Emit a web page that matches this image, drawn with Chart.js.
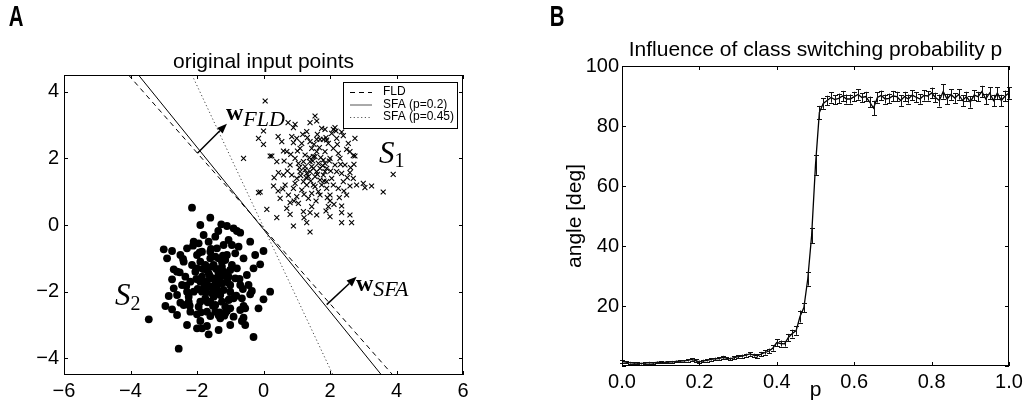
<!DOCTYPE html>
<html>
<head>
<meta charset="utf-8">
<script src="https://cdn.jsdelivr.net/npm/chart.js@4.4.1/dist/chart.umd.min.js"></script>
<style>
  body { margin: 0; background: #fff; width: 1028px; height: 407px; overflow: hidden; position: relative; }
  canvas { position: absolute; top: 0; }
  #chartA { left: 0; }
  #chartB { left: 520px; }
</style>
</head>
<body>
<canvas id="chartA" width="480" height="407"></canvas>
<canvas id="chartB" width="508" height="407"></canvas>
<script>
// ---- panel A data ----
const xTicksA = [-6, -4, -2, 0, 2, 4, 6];
const yTicksA = [-4, -2, 0, 2, 4];

// class S1 (crosses)
const s1Points = [
  [-0.6,2.0],[0.05,3.72],[3.9,1.52],[1.4,-0.21],[2.35,0.07],[2.65,0.07],[3.6,0.99],[2.8,1.2],[3.0,1.25],[2.75,2.6],
  [2.7,2.08],[-0.15,2.6],[0,2.82],[0.44,2.65],[0.9,2.92],[1.55,3.27],[1.6,3.12],[1.85,2.87],[2.15,2.92],[2.4,2.68],
  [-0.1,0.99],[0.3,1.17],[0.44,1.02],[0.1,0.47],[0.4,0.22],[0.8,0.32],[0.9,-0.03],[1.3,0.07],[1.4,0.37],[2.0,0.72],
  [2.35,0.57],[2.35,0.37],[2.6,1.17],[2.6,1.57],[2.5,2.27],[0.9,2.47],[0.2,2.07],[0.45,1.57],[0.8,0.67],[0.74,3.07],
  [0.95,3.02],[1.4,3.07],[2.1,2.87],[2.35,2.79],[0,2.42],[0.25,2.07],[0.6,2.22],[2.75,2.07],[3.05,1.12],[3.25,1.17],
  [-0.15,0.97],[2.6,0.3],
  [1.5,1.7],[1.2,1.9],[1.8,1.5],[1.0,1.4],[2.0,2.0],[1.6,2.2],[1.3,1.2],[1.9,1.1],[0.8,1.8],[2.2,1.6],
  [1.4,2.5],[1.1,2.3],[1.7,0.9],[2.4,1.3],[0.9,1.1],[1.55,1.45],[1.25,1.65],[1.85,1.85],[2.1,2.3],[0.7,2.2],
  [1.6,2.57],[1.7,2.57],[1.8,2.57],[1.9,2.55],[1.65,1.0],[1.35,0.8],[2.0,0.9],[2.25,1.1],[0.6,1.5],[0.75,0.9],
  [1.05,0.65],[1.45,0.55],[1.95,0.55],[2.3,2.0],[2.45,1.8],[1.0,2.6],[1.3,2.8],[0.55,2.5],[2.2,2.6],[1.75,2.9],
  [1.5,1.2],[1.15,1.05],[1.4,1.9],[1.9,1.7],[1.7,1.35],[1.05,1.85],[2.05,1.4],[1.25,2.1],[1.6,1.6],[1.35,1.45],
  [0.95,2.0],[1.85,2.2],[1.55,2.05],[2.15,1.8],[0.85,1.5],[1.45,2.3],[1.95,2.45],[1.1,1.6],[2.35,1.55],[1.65,1.85],
  [0.65,1.2],[0.5,0.8],[1.2,0.4],[1.6,0.3],[2.0,0.25],[2.5,0.9],[2.7,1.4],[2.55,2.45],[2.05,2.75],[0.4,1.9],
  [1.3,1.55],[1.75,1.2],[1.15,2.45],[2.25,2.15],[0.7,0.5],[1.9,1.3],[1.45,0.95],[0.85,2.65],[2.6,2.2],[1.0,0.85],
  [1.55,1.15],[1.25,1.75],[1.8,1.95],[1.4,1.6],[1.7,1.7],[1.2,1.3],[2.1,1.2],[0.95,1.25],[1.5,2.05],[1.85,1.6],
  [1.45,1.75],[1.62,1.52],[1.38,2.02],[1.78,1.78],[1.12,1.48],[2.02,1.62],[1.52,2.42],[1.92,0.82],[1.22,0.92],[0.82,2.12],
  [2.32,1.82],[1.68,2.32],[1.32,2.62],[2.12,0.62],[0.72,1.62],[1.58,0.72],[2.52,1.42],[1.02,2.22],[1.88,2.62],[2.22,2.42],
  [1.42,1.32],[1.72,2.02],[1.08,1.72],[1.98,1.92],[1.28,1.42],[2.42,1.02],[0.62,1.92],[1.82,1.32],[1.48,1.92],[1.18,2.72],
  [2.62,1.72],[0.92,0.72],[1.62,2.72],[2.28,0.82],[0.58,1.08],[1.88,0.42],[1.22,0.22],[2.72,1.82],[0.32,1.42],[2.18,2.82]
];

// class S2 (dots)
const s2Points = [
  [-3.45,-2.83],[-2.55,-3.71],[-2.15,0.52],[-1.6,0.22],[-3.0,-0.73],[-2.85,-2.13],[-2.95,-2.43],[-0.3,-3.36],[0.2,-2.0],[0,-0.78],
  [-0.1,-1.18],[-0.7,-0.23],[-1.27,0.02],[-1.1,-0.03],[-0.9,-0.1],[-1.65,-3.28],[-1.35,-3.15],[-2.0,-3.1],[-1.85,-3.1],[-0.65,-2.88],
  [-0.4,-2.08],[-0.6,-2.43],[-1.36,-0.18],[-0.8,-0.18],[-2.75,-0.78],[-2.9,-1.0],[-2.7,-1.33],[-2.75,-1.63],[-2.75,-2.53],[-2.5,-2.33],
  [-2.0,-2.68],[-1.9,-2.88],[-1.7,-3.03],[0,-2.23],[-0.35,-1.98],[-0.6,-2.78],[-1.6,-2.73],[-1.35,-2.71],[-1.1,-2.58],
  [-1.5,-1.6],[-1.2,-1.4],[-1.8,-1.9],[-1.0,-1.8],[-2.0,-1.3],[-1.6,-1.0],[-1.3,-2.1],[-1.9,-2.3],[-0.8,-1.3],[-2.2,-1.7],
  [-1.4,-0.7],[-1.1,-0.9],[-1.7,-2.6],[-2.4,-1.1],[-0.9,-2.2],[-1.55,-1.25],[-1.25,-1.75],[-1.85,-1.55],[-2.1,-2.0],[-0.7,-1.8],
  [-1.45,-2.4],[-1.0,-2.5],[-2.3,-0.7],[-0.6,-1.0],[-1.65,-0.5],[-1.35,-1.0],[-2.0,-0.9],[-2.25,-2.3],[-0.5,-1.5],[-0.75,-0.65],
  [-1.05,-0.45],[-1.45,-0.35],[-1.95,-0.55],[-2.3,-2.0],[-2.45,-1.8],[-1.0,-2.0],[-1.3,-2.8],[-0.55,-2.5],[-2.2,-2.6],[-1.75,-2.2],
  [-1.5,-1.2],[-1.15,-1.05],[-1.4,-1.9],[-1.9,-1.7],[-1.7,-1.35],[-1.05,-1.55],[-2.05,-1.4],[-1.25,-2.3],[-1.6,-1.6],[-1.35,-1.45],
  [-0.95,-1.2],[-1.85,-2.0],[-1.55,-2.05],[-2.15,-1.2],[-0.85,-1.6],[-1.45,-2.6],[-1.95,-2.45],[-1.1,-1.6],[-2.35,-1.55],[-1.65,-1.85],
  [-0.65,-2.2],[-0.45,-1.8],[-1.2,-0.6],[-1.6,-0.8],[-2.6,-1.4],[-2.5,-0.9],[-1.8,-0.3],[-1.15,-2.65],[-0.9,-2.75],[-2.6,-2.1],
  [-1.3,-1.55],[-1.75,-1.2],[-1.15,-2.45],[-2.25,-2.15],[-0.7,-2.55],[-1.9,-1.1],[-1.45,-0.95],[-0.85,-0.85],[-2.4,-2.4],[-1.0,-1.35],
  [-1.55,-1.85],[-1.25,-1.25],[-1.8,-1.95],[-1.4,-1.65],[-1.7,-1.7],[-1.2,-1.95],[-2.1,-0.5],[-0.95,-0.6],[-1.5,-2.15],[-1.85,-0.8],
  [-1.35,-2.0],[-1.6,-2.3],[-1.05,-2.25],[-1.65,-1.45],[-1.25,-1.1],
  [-1.45,-1.75],[-1.62,-1.52],[-1.38,-2.02],[-1.78,-1.78],[-1.12,-1.48],[-2.02,-1.62],[-1.52,-2.42],[-1.92,-0.82],[-1.22,-0.92],[-0.82,-2.12],
  [-2.32,-1.82],[-1.68,-2.32],[-1.32,-2.62],[-2.12,-0.62],[-0.72,-1.62],[-1.58,-0.72],[-2.52,-1.42],[-1.02,-2.22],[-1.88,-2.62],[-2.22,-2.42],
  [-1.42,-1.32],[-1.72,-2.02],[-1.08,-1.72],[-1.98,-1.92],[-1.28,-1.42],[-2.42,-1.02],[-0.62,-1.92],[-1.82,-1.32],[-1.48,-1.92],[-1.18,-2.72],
  [-0.3,-1.3],[-0.25,-0.9],[-0.4,-0.5],[-2.7,-1.9],[-2.6,-2.7],[-0.55,-3.0],[-1.0,-3.0],[-2.3,-3.0],[-0.15,-2.5],[-1.9,0.0]
];

// separating lines (end points at the frame edges)
const fldLine = [[-4.06, 4.5], [3.89, -4.5]];
const sfa02Line = [[-3.76, 4.5], [3.55, -4.5]];
const sfa045Line = [[-2.15, 4.5], [2.09, -4.5]];

// weight vectors
const wFldArrow = [[-1.99, 2.15], [-1.10, 3.04]];
const wSfaArrow = [[1.90, -2.39], [2.80, -1.55]];

const legendLabels = ['FLD', 'SFA (p=0.2)', 'SFA (p=0.45)'];

// ---- panel B data ----
const pValues = [
  0.00,0.01,0.02,0.03,0.04,0.05,0.06,0.07,0.08,0.09,
  0.10,0.11,0.12,0.13,0.14,0.15,0.16,0.17,0.18,0.19,
  0.20,0.21,0.22,0.23,0.24,0.25,0.26,0.27,0.28,0.29,
  0.30,0.31,0.32,0.33,0.34,0.35,0.36,0.37,0.38,0.39,
  0.40,0.41,0.42,0.43,0.44,0.45,0.46,0.47,0.48,0.49,
  0.50,0.51,0.52,0.53,0.54,0.55,0.56,0.57,0.58,0.59,
  0.60,0.61,0.62,0.63,0.64,0.65,0.66,0.67,0.68,0.69,
  0.70,0.71,0.72,0.73,0.74,0.75,0.76,0.77,0.78,0.79,
  0.80,0.81,0.82,0.83,0.84,0.85,0.86,0.87,0.88,0.89,
  0.90,0.91,0.92,0.93,0.94,0.95,0.96,0.97,0.98,0.99,
  1.00
];
const angleValues = [
  1.5,1.3,1.1,1.0,1.0,0.8,1.0,1.1,1.0,1.2,
  1.3,1.2,1.3,1.4,1.5,1.6,1.7,1.9,2.2,1.8,
  1.4,1.7,1.9,2.2,2.4,2.5,2.9,2.6,2.4,2.8,
  3.1,3.3,3.6,4.0,3.6,3.4,4.0,4.5,5.0,6.0,
  7.8,7.5,7.4,9.5,10.8,11.8,16.5,19.5,29.0,43.5,
  67.0,84.5,87.5,88.5,89.5,88.8,89.2,90.0,89.0,89.0,
  89.8,90.5,89.5,89.8,88.0,86.0,89.5,90.2,89.0,89.2,
  90.0,89.8,88.5,89.8,89.0,90.3,89.6,89.0,90.2,90.0,
  91.0,89.5,88.5,91.5,89.0,90.5,89.3,90.5,88.5,89.8,
  88.0,90.3,89.8,91.5,89.0,91.0,88.5,91.0,88.5,90.0,
  91.0
];
const angleErrors = [
  0.4,0.3,0.3,0.3,0.3,0.3,0.3,0.3,0.3,0.3,
  0.3,0.3,0.3,0.3,0.3,0.3,0.3,0.4,0.4,0.4,
  0.4,0.4,0.4,0.4,0.4,0.4,0.5,0.4,0.4,0.5,
  0.5,0.5,0.5,0.6,0.5,0.6,0.7,0.7,0.8,0.9,
  1.1,1.0,0.9,1.2,1.3,1.4,2.0,1.6,2.2,2.6,
  3.3,2.2,1.8,1.6,1.7,1.5,1.6,1.7,1.5,1.5,
  1.6,1.7,1.5,1.6,1.8,2.4,1.7,1.6,1.5,1.6,
  1.7,1.6,1.8,1.6,1.5,1.7,1.6,1.6,1.7,1.5,
  1.8,1.6,2.0,2.4,1.7,1.8,1.6,1.7,1.8,1.6,
  1.9,1.7,1.6,1.9,1.8,2.0,1.9,2.0,1.9,1.8,
  1.9
];
const xTicksB = [0, 0.2, 0.4, 0.6, 0.8, 1.0];
const yTicksB = [0, 20, 40, 60, 80, 100];

Chart.defaults.font.family = 'Liberation Sans, Arial, sans-serif';
Chart.defaults.color = '#000';

const toXY = arr => arr.map(p => ({ x: p[0], y: p[1] }));
const minusFmt = v => (v < 0 ? '\u2212' + Math.abs(v) : String(v));

function inwardTicks(ctx, chart, len) {
  const a = chart.chartArea;
  const xs = chart.scales.x, ys = chart.scales.y;
  ctx.beginPath();
  xs.ticks.forEach(t => {
    const px = Math.round(xs.getPixelForValue(t.value)) + 0.5;
    ctx.moveTo(px, a.bottom); ctx.lineTo(px, a.bottom - len);
    ctx.moveTo(px, a.top); ctx.lineTo(px, a.top + len);
  });
  ys.ticks.forEach(t => {
    const py = Math.round(ys.getPixelForValue(t.value)) + 0.5;
    ctx.moveTo(a.left, py); ctx.lineTo(a.left + len, py);
    ctx.moveTo(a.right, py); ctx.lineTo(a.right - len, py);
  });
  ctx.stroke();
  ctx.strokeRect(Math.round(a.left) + 0.5, Math.round(a.top) + 0.5,
    Math.round(a.right - a.left) - 1, Math.round(a.bottom - a.top) - 1);
}

function drawArrow(ctx, chart, seg) {
  const xs = chart.scales.x, ys = chart.scales.y;
  const x0 = xs.getPixelForValue(seg[0][0]), y0 = ys.getPixelForValue(seg[0][1]);
  const x1 = xs.getPixelForValue(seg[1][0]), y1 = ys.getPixelForValue(seg[1][1]);
  const ang = Math.atan2(y1 - y0, x1 - x0);
  const hl = 10, hw = 4;
  ctx.lineWidth = 1.5;
  ctx.beginPath();
  ctx.moveTo(x0, y0);
  ctx.lineTo(x1 - hl * Math.cos(ang), y1 - hl * Math.sin(ang));
  ctx.stroke();
  ctx.beginPath();
  ctx.moveTo(x1, y1);
  ctx.lineTo(x1 - hl * Math.cos(ang) + hw * Math.sin(ang), y1 - hl * Math.sin(ang) - hw * Math.cos(ang));
  ctx.lineTo(x1 - hl * Math.cos(ang) - hw * Math.sin(ang), y1 - hl * Math.sin(ang) + hw * Math.cos(ang));
  ctx.closePath();
  ctx.fill();
}

function mathLabel(ctx, main, mainFont, sub, subFont, x, y, subDy) {
  ctx.textAlign = 'left';
  ctx.textBaseline = 'alphabetic';
  ctx.font = mainFont;
  ctx.fillText(main, x, y);
  const w = ctx.measureText(main).width;
  ctx.font = subFont;
  ctx.fillText(sub, x + w, y + subDy);
}

const panelA = {
  id: 'panelA',
  afterDraw(chart) {
    const ctx = chart.ctx, a = chart.chartArea;
    ctx.save();
    ctx.strokeStyle = '#000';
    ctx.fillStyle = '#000';
    ctx.lineWidth = 1;
    inwardTicks(ctx, chart, 4);

    // title and panel letter
    ctx.textAlign = 'center';
    ctx.textBaseline = 'middle';
    ctx.font = '21px Liberation Sans, Arial, sans-serif';
    ctx.fillText('original input points', (a.left + a.right) / 2, a.top - 13);
    ctx.save();
    ctx.translate(16, 18);
    ctx.scale(0.68, 1);
    ctx.font = 'bold 30px Liberation Sans, Arial, sans-serif';
    ctx.fillText('A', 0, 0);
    ctx.restore();

    // weight vectors
    drawArrow(ctx, chart, wFldArrow);
    drawArrow(ctx, chart, wSfaArrow);

    // math labels
    mathLabel(ctx, 'w', 'bold 24px Liberation Serif, serif', 'FLD', 'italic 22px Liberation Serif, serif', 226, 120, 6);
    mathLabel(ctx, 'w', 'bold 24px Liberation Serif, serif', 'SFA', 'italic 22px Liberation Serif, serif', 356, 291, 5);
    mathLabel(ctx, 'S', 'italic 31px Liberation Serif, serif', '1', '20px Liberation Serif, serif', 379, 163, 4);
    mathLabel(ctx, 'S', 'italic 31px Liberation Serif, serif', '2', '20px Liberation Serif, serif', 115, 305, 5);

    // legend
    const bx = a.right - 120, by = a.top + 7, bw = 114, bh = 46;
    ctx.fillStyle = '#fff';
    ctx.fillRect(bx, by, bw, bh);
    ctx.fillStyle = '#000';
    ctx.lineWidth = 1;
    ctx.strokeRect(bx + 0.5, by + 0.5, bw, bh);
    const styles = [
      { dash: [5, 4], color: '#000' },
      { dash: [], color: '#555' },
      { dash: [1.2, 2.5], color: '#555' }
    ];
    ctx.font = '12px Liberation Sans, Arial, sans-serif';
    ctx.textAlign = 'left';
    ctx.textBaseline = 'middle';
    legendLabels.forEach((lab, i) => {
      const ry = by + 10 + i * 12.5;
      ctx.strokeStyle = styles[i].color;
      ctx.setLineDash(styles[i].dash);
      ctx.beginPath();
      ctx.moveTo(bx + 7, ry + 0.5);
      ctx.lineTo(bx + 29, ry + 0.5);
      ctx.stroke();
      ctx.setLineDash([]);
      ctx.fillText(lab, bx + 40, ry);
    });
    ctx.restore();
  }
};

new Chart(document.getElementById('chartA'), {
  type: 'scatter',
  data: {
    datasets: [
      { data: toXY(s2Points), pointStyle: 'circle', pointRadius: 3.9, backgroundColor: '#000', borderColor: '#000', borderWidth: 0 },
      { data: toXY(s1Points), pointStyle: 'crossRot', pointRadius: 3.5, borderColor: '#000', borderWidth: 1.1 },
      { data: toXY(fldLine), showLine: true, pointRadius: 0, borderColor: '#000', borderWidth: 1, borderDash: [5, 4] },
      { data: toXY(sfa02Line), showLine: true, pointRadius: 0, borderColor: '#000', borderWidth: 1 },
      { data: toXY(sfa045Line), showLine: true, pointRadius: 0, borderColor: '#444', borderWidth: 1, borderDash: [1.2, 2.5] }
    ]
  },
  options: {
    responsive: false,
    animation: false,
    events: [],
    layout: { padding: { top: 75, right: 17, left: 0, bottom: 0 } },
    plugins: { legend: { display: false }, tooltip: { enabled: false } },
    scales: {
      x: {
        type: 'linear', min: -6, max: 6,
        grid: { display: false, drawTicks: false },
        border: { display: false },
        ticks: { font: { size: 20 }, padding: 4, maxRotation: 0, autoSkip: false, callback: minusFmt },
        afterBuildTicks: s => { s.ticks = xTicksA.map(v => ({ value: v })); },
        afterFit: s => { s.height = 32; }
      },
      y: {
        type: 'linear', min: -4.5, max: 4.5,
        grid: { display: false, drawTicks: false },
        border: { display: false },
        ticks: { font: { size: 20 }, padding: 5, autoSkip: false, callback: minusFmt },
        afterBuildTicks: s => { s.ticks = yTicksA.map(v => ({ value: v })); },
        afterFit: s => { s.width = 64; }
      }
    }
  },
  plugins: [panelA]
});

const panelB = {
  id: 'panelB',
  afterDatasetsDraw(chart) {
    const ctx = chart.ctx;
    const xs = chart.scales.x, ys = chart.scales.y;
    ctx.save();
    ctx.strokeStyle = '#111';
    ctx.lineWidth = 1;
    ctx.beginPath();
    pValues.forEach((p, i) => {
      const px = Math.round(xs.getPixelForValue(p)) + 0.5;
      const top = ys.getPixelForValue(angleValues[i] + angleErrors[i]);
      const bot = ys.getPixelForValue(angleValues[i] - angleErrors[i]);
      ctx.moveTo(px, top); ctx.lineTo(px, bot);
      ctx.moveTo(px - 2.5, Math.round(top) + 0.5); ctx.lineTo(px + 2.5, Math.round(top) + 0.5);
      ctx.moveTo(px - 2.5, Math.round(bot) + 0.5); ctx.lineTo(px + 2.5, Math.round(bot) + 0.5);
    });
    ctx.stroke();
    ctx.restore();
  },
  afterDraw(chart) {
    const ctx = chart.ctx, a = chart.chartArea;
    ctx.save();
    ctx.strokeStyle = '#000';
    ctx.fillStyle = '#000';
    ctx.lineWidth = 1;
    inwardTicks(ctx, chart, 4);

    ctx.textAlign = 'center';
    ctx.textBaseline = 'middle';
    ctx.font = '21px Liberation Sans, Arial, sans-serif';
    ctx.fillText('Influence of class switching probability p', (a.left + a.right) / 2, a.top - 16);
    ctx.textBaseline = 'alphabetic';
    ctx.fillText('p', (a.left + a.right) / 2, a.bottom + 30);

    ctx.save();
    ctx.translate(a.left - 47, (a.top + a.bottom) / 2);
    ctx.rotate(-Math.PI / 2);
    ctx.textBaseline = 'middle';
    ctx.font = '21px Liberation Sans, Arial, sans-serif';
    ctx.fillText('angle [deg]', 0, 0);
    ctx.restore();

    ctx.save();
    ctx.translate(37, 18);
    ctx.scale(0.68, 1);
    ctx.textBaseline = 'middle';
    ctx.font = 'bold 30px Liberation Sans, Arial, sans-serif';
    ctx.fillText('B', 0, 0);
    ctx.restore();
    ctx.restore();
  }
};

new Chart(document.getElementById('chartB'), {
  type: 'line',
  data: {
    datasets: [{
      data: pValues.map((p, i) => ({ x: p, y: angleValues[i] })),
      borderColor: '#000',
      borderWidth: 1.3,
      pointRadius: 0,
      tension: 0,
      fill: false
    }]
  },
  options: {
    responsive: false,
    animation: false,
    events: [],
    layout: { padding: { top: 66, right: 19, left: 0, bottom: 0 } },
    plugins: { legend: { display: false }, tooltip: { enabled: false } },
    scales: {
      x: {
        type: 'linear', min: 0, max: 1,
        grid: { display: false, drawTicks: false },
        border: { display: false },
        ticks: { font: { size: 20 }, padding: 4, maxRotation: 0, autoSkip: false, callback: v => v.toFixed(1) },
        afterBuildTicks: s => { s.ticks = xTicksB.map(v => ({ value: v })); },
        afterFit: s => { s.height = 41; }
      },
      y: {
        type: 'linear', min: 0, max: 100,
        grid: { display: false, drawTicks: false },
        border: { display: false },
        ticks: { font: { size: 20 }, padding: 3, autoSkip: false, callback: v => (v === 0 ? '' : String(v)) },
        afterBuildTicks: s => { s.ticks = yTicksB.map(v => ({ value: v })); },
        afterFit: s => { s.width = 102; }
      }
    }
  },
  plugins: [panelB]
});
</script>
</body>
</html>
